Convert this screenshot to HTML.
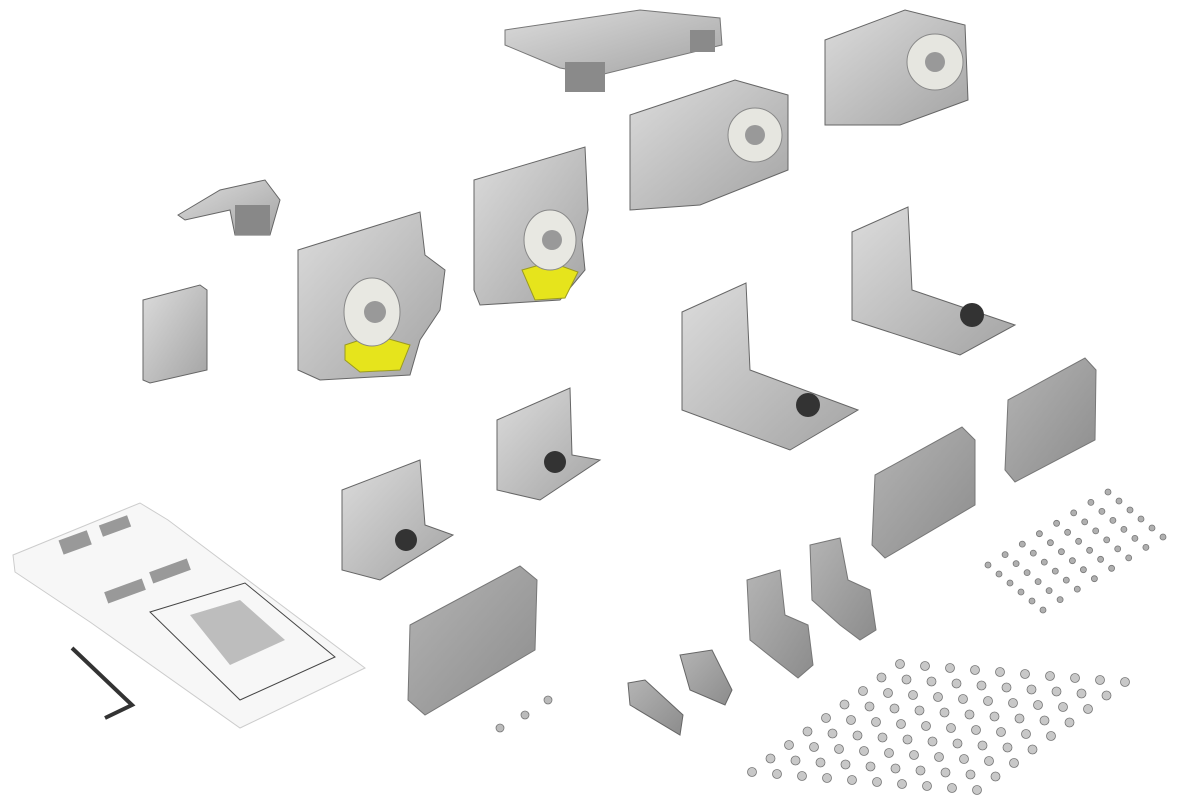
<!DOCTYPE html>
<html><head><meta charset="utf-8"><style>html,body{margin:0;background:#fff;width:1200px;height:800px;overflow:hidden}</style></head>
<body>
<svg id="s" width="1200" height="800" viewBox="0 0 1200 800" xmlns="http://www.w3.org/2000/svg">
<defs>
<linearGradient id="m" x1="0" y1="0" x2="1" y2="1"><stop offset="0" stop-color="#dcdcdc"/><stop offset="1" stop-color="#a4a4a4"/></linearGradient>
<linearGradient id="g" x1="0" y1="0" x2="1" y2="1"><stop offset="0" stop-color="#b4b4b4"/><stop offset="1" stop-color="#8c8c8c"/></linearGradient>
</defs>
<polygon points="505,30 640,10 720,18 722,45 600,75 560,68 505,45" fill="url(#m)" stroke="#777"/>
<rect x="565" y="62" width="40" height="30" fill="#8a8a8a"/>
<rect x="690" y="30" width="25" height="22" fill="#8a8a8a"/>
<polygon points="825,40 905,10 965,25 968,100 900,125 825,125" fill="url(#m)" stroke="#666"/>
<circle cx="935" cy="62" r="28" fill="#e6e6e0" stroke="#888"/><circle cx="935" cy="62" r="10" fill="#999"/>
<polygon points="630,115 735,80 788,95 788,170 700,205 630,210" fill="url(#m)" stroke="#666"/>
<circle cx="755" cy="135" r="27" fill="#e6e6e0" stroke="#888"/><circle cx="755" cy="135" r="10" fill="#999"/>
<polygon points="178,215 220,190 265,180 280,200 270,235 235,235 230,210 185,220" fill="url(#m)" stroke="#666"/>
<rect x="235" y="205" width="35" height="30" fill="#888"/>
<polygon points="143,300 200,285 207,290 207,370 150,383 143,380" fill="url(#m)" stroke="#666"/>
<polygon points="298,250 420,212 425,255 445,270 440,310 420,340 410,375 320,380 298,370" fill="url(#m)" stroke="#666"/>
<polygon points="345,345 375,335 410,345 400,370 360,372 345,360" fill="#e6e41c" stroke="#9a9a20"/>
<ellipse cx="372" cy="312" rx="28" ry="34" fill="#e8e8e2" stroke="#888"/><circle cx="375" cy="312" r="11" fill="#999"/>
<polygon points="474,180 585,147 588,210 582,240 585,270 560,300 480,305 474,290" fill="url(#m)" stroke="#666"/>
<polygon points="522,270 550,262 578,272 565,298 535,300" fill="#e6e41c" stroke="#9a9a20"/>
<ellipse cx="550" cy="240" rx="26" ry="30" fill="#e8e8e2" stroke="#888"/><circle cx="552" cy="240" r="10" fill="#999"/>
<polygon points="852,232 908,207 912,290 1015,325 960,355 852,320" fill="url(#m)" stroke="#666"/>
<circle cx="972" cy="315" r="12" fill="#333"/>
<polygon points="682,312 746,283 750,370 858,410 790,450 682,410" fill="url(#m)" stroke="#666"/>
<circle cx="808" cy="405" r="12" fill="#333"/>
<polygon points="497,420 570,388 572,455 600,460 540,500 497,490" fill="url(#m)" stroke="#666"/>
<circle cx="555" cy="462" r="11" fill="#333"/>
<polygon points="342,490 420,460 425,525 453,535 380,580 342,570" fill="url(#m)" stroke="#666"/>
<circle cx="406" cy="540" r="11" fill="#333"/>
<polygon points="1008,400 1085,358 1096,370 1095,440 1015,482 1005,470" fill="url(#g)" stroke="#777"/>
<polygon points="875,475 962,427 975,440 975,505 885,558 872,545" fill="url(#g)" stroke="#777"/>
<polygon points="410,625 520,566 537,580 535,650 425,715 408,700" fill="url(#g)" stroke="#777"/>
<polygon points="810,545 840,538 848,580 870,590 876,630 860,640 840,625 812,600" fill="url(#g)" stroke="#777"/>
<polygon points="747,580 780,570 785,615 808,625 813,665 798,678 775,660 750,640" fill="url(#g)" stroke="#777"/>
<polygon points="680,655 712,650 732,690 725,705 690,690" fill="url(#g)" stroke="#666"/>
<polygon points="628,683 645,680 683,715 680,735 630,705" fill="url(#g)" stroke="#666"/>
<polygon points="13,555 140,503 168,520 365,668 240,728 90,622 15,572" fill="#f7f7f7" stroke="#ccc"/>
<polygon points="150,612 245,583 335,657 240,700" fill="none" stroke="#444"/>
<polygon points="190,615 240,600 285,640 230,665" fill="#bdbdbd"/>
<rect x="60" y="535" width="30" height="15" fill="#999" transform="rotate(-20 75 542)"/>
<rect x="100" y="520" width="30" height="12" fill="#999" transform="rotate(-20 115 526)"/>
<rect x="105" y="585" width="40" height="12" fill="#999" transform="rotate(-20 125 591)"/>
<rect x="150" y="565" width="40" height="12" fill="#999" transform="rotate(-20 170 571)"/>
<path d="M72,648 L132,705 L105,718" fill="none" stroke="#333" stroke-width="4"/>
<g id="scr"></g>
</svg>
<script>
var g=document.getElementById('scr'),h='';
function sc(x,y,r,c){h+='<circle cx="'+x.toFixed(1)+'" cy="'+y.toFixed(1)+'" r="'+r+'" fill="'+c+'" stroke="#777" stroke-width="0.8"/>';}
sc(500,728,4,'#bbb');sc(525,715,4,'#bbb');sc(548,700,4,'#bbb');
/* top-right small screws: origin left (988,565), axis a to top (120,-73) 8 steps, axis b to bottom (55,45) 6 steps */
for(var i=0;i<8;i++)for(var j=0;j<6;j++){sc(988+i*120/7+j*55/5,565-i*73/7+j*45/5,3,'#b0b0b0');}
/* bottom screws: origin BL (752,772), axis i (26,4) x10, axis j (18.5,-13) x9 */
for(var i=0;i<10;i++)for(var j=0;j<9;j++){sc(752+i*25+j*18.5,772+i*2-j*13.5,4.5,'#c8c8c8');}
g.innerHTML=h;
</script>
</body></html>
